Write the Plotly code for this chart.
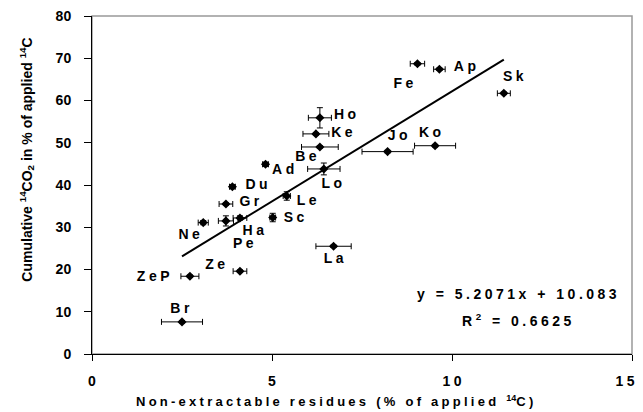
import plotly.graph_objects as go

# ---- data ----
names = ["Br", "ZeP", "Ze", "Ne", "Pe", "Ha", "Gr", "Du", "Sc", "Le", "La",
         "Ad", "Be", "Lo", "Ke", "Ho", "Jo", "Ko", "Fe", "Ap", "Sk"]
ner = [2.50, 2.72, 4.11, 3.09, 3.72, 4.11, 3.72, 3.90, 5.02, 5.41, 6.71,
       4.82, 6.33, 6.44, 6.22, 6.33, 8.21, 9.53, 9.04, 9.65, 11.44]
co2 = [7.6, 18.4, 19.6, 31.1, 31.5, 32.2, 35.5, 39.6, 32.3, 37.4, 25.5,
       44.9, 49.0, 43.8, 52.1, 55.9, 47.9, 49.3, 68.7, 67.4, 61.7]
ner_err = [0.57, 0.25, 0.19, 0.14, 0.21, 0.19, 0.19, 0.08, 0.08, 0.10, 0.49,
           0.08, 0.51, 0.45, 0.36, 0.32, 0.71, 0.57, 0.20, 0.16, 0.18]
co2_err = [0.3, 0.3, 0.3, 0.5, 1.2, 0.5, 0.3, 0.5, 1.0, 1.0, 0.3,
           0.5, 0.3, 1.4, 0.3, 2.4, 0.3, 0.3, 0.3, 0.3, 0.3]
slope, intercept, r2 = 5.2071, 10.083, 0.6625
x_ticks = [0, 5, 10, 15]
y_ticks = [0, 10, 20, 30, 40, 50, 60, 70, 80]

# label offsets (layout, in data units)
label_dx = [-0.06, -1.02, -0.69, -0.39, 0.48, 0.37, 0.65, 0.67, 0.59, 0.55, 0.0,
            0.49, -0.39, 0.22, 0.72, 0.70, 0.28, -0.14, -0.39, 0.71, 0.26]
label_dy = [3.0, -0.3, 1.4, -3.0, -5.5, -3.1, 0.3, 0.4, -0.2, -1.4, -3.2,
            -1.5, -2.4, -3.6, 0.0, 0.6, 3.5, 2.8, -4.9, 0.4, 3.7]

SP = "\u2005"


def sp(s):
    return SP.join(list(s))


FONT = "Liberation Sans, Arial, sans-serif"
BOLD14 = dict(family=FONT, size=14, color="black", weight="bold")

fig = go.Figure()

# trend line (drawn on the overlay x-axis that carries the last tick label)
xmin, xmax = min(ner), max(ner)
fig.add_trace(go.Scatter(
    x=[xmin, xmax], y=[slope * xmin + intercept, slope * xmax + intercept],
    mode="lines", line=dict(color="black", width=2), hoverinfo="skip",
    showlegend=False, xaxis="x2", yaxis="y"))

fig.add_trace(go.Scatter(
    x=ner, y=co2, mode="markers",
    marker=dict(symbol="diamond", size=7, color="black"),
    error_x=dict(type="data", array=ner_err, color="black", thickness=1, width=3),
    error_y=dict(type="data", array=co2_err, color="black", thickness=1, width=3),
    showlegend=False))

fig.add_trace(go.Scatter(
    x=[a + b for a, b in zip(ner, label_dx)],
    y=[a + b for a, b in zip(co2, label_dy)],
    mode="text", text=[sp(n) for n in names],
    textfont=BOLD14, showlegend=False, hoverinfo="skip"))

# plot-area frame (gray)
fig.add_shape(type="rect", xref="paper", yref="paper", x0=0, y0=0, x1=1, y1=1,
              line=dict(color="#999999", width=1.5), layer="below")

fig.add_annotation(xref="paper", yref="paper", x=0.787, y=0.148, xanchor="center",
                   text=sp("y = %.4fx + %.3f" % (slope, intercept)),
                   showarrow=False, font=BOLD14)
fig.add_annotation(xref="paper", yref="paper", x=0.787, y=0.068, xanchor="center",
                   text="R" + SP + "<sup>2</sup>" + SP + sp(" = %.4f" % r2),
                   showarrow=False, font=BOLD14)

xtitle = sp("Non-extractable residues (% of applied ") + SP + "<sup>14</sup>" + sp("C)")
fig.add_annotation(xref="paper", yref="paper", x=0.449, y=-0.138,
                   xanchor="center", yanchor="middle", text=xtitle, showarrow=False,
                   font=dict(family=FONT, size=13, color="black", weight="bold"))
fig.add_annotation(xref="paper", yref="paper", x=-0.121, y=0.574,
                   xanchor="center", yanchor="middle", textangle=-90,
                   text="Cumulative <sup>14</sup>CO<sub>2</sub> in % of applied <sup>14</sup>C",
                   showarrow=False,
                   font=dict(family=FONT, size=14, color="black", weight="bold"))

xt_text = [sp(str(v)) for v in x_ticks]
main_text = xt_text[:-1] + [""]

axis_common = dict(range=[0, 15], automargin=False, showgrid=False, zeroline=False,
                   ticks="outside", ticklen=6, tickcolor="black",
                   ticklabelstandoff=8, tickfont=BOLD14)

fig.update_layout(
    width=643, height=412, autosize=False,
    margin=dict(l=92, r=11, t=16, b=58, autoexpand=False),
    plot_bgcolor="white", paper_bgcolor="white",
    font=BOLD14,
    xaxis=dict(tickvals=x_ticks, ticktext=main_text, showline=True,
               linecolor="black", linewidth=1, **axis_common),
    xaxis2=dict(tickvals=x_ticks[-1:], ticktext=xt_text[-1:], overlaying="x",
                matches="x", anchor="y", side="bottom", showline=False,
                ticklabelshift=-7, **axis_common),
    yaxis=dict(range=[0, 80], tickvals=y_ticks, automargin=False,
               showgrid=False, zeroline=False, showline=True, linecolor="black",
               linewidth=1, ticks="outside", ticklen=7, tickcolor="black",
               ticklabelstandoff=10, tickfont=BOLD14),
)

fig.write_html("out.html")
